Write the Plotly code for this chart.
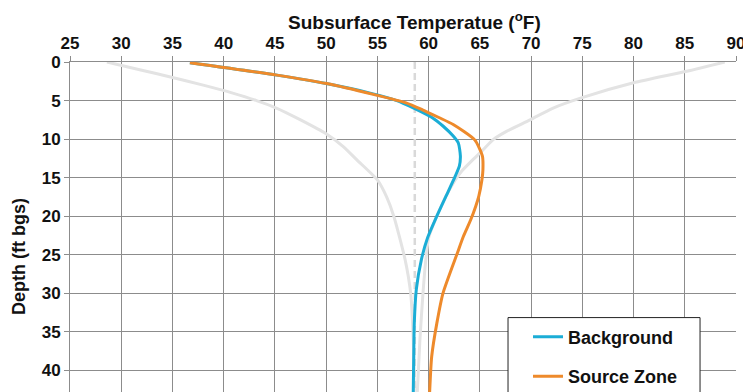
import plotly.graph_objects as go

# Background profile
bg_depth = [0.1, 1.7, 2.8, 4.0, 5.0, 5.95, 7.25, 8.3, 9.6, 10.5, 12.2, 13.5, 14.8, 17.4, 20.0, 22.8, 25.6, 29.5, 33.9, 38.0, 42.8]
bg_temp = [36.7, 45.2, 50.0, 54.2, 56.9, 58.5, 60.4, 61.4, 62.4, 62.9, 63.1, 63.0, 62.6, 61.7, 60.8, 59.9, 59.3, 58.8, 58.6, 58.55, 58.5]

# Source zone profile
sz_depth = [0.1, 1.7, 2.8, 4.2, 5.3, 6.2, 7.2, 8.1, 10.1, 12.2, 14.0, 15.3, 17.4, 18.7, 20.5, 22.6, 24.8, 30.0, 33.9, 38.2, 42.8]
sz_temp = [36.7, 45.2, 50.05, 54.6, 57.8, 59.4, 61.0, 62.4, 64.5, 65.25, 65.3, 65.2, 64.9, 64.6, 64.1, 63.4, 62.8, 61.4, 60.8, 60.3, 60.1]

# Seasonal envelope (winter / summer)
env_lo_depth = [0.0, 1.0, 2.0, 3.0, 4.0, 5.0, 6.0, 7.5, 9.3, 11.0, 12.7, 15.3, 17.5, 20.0, 25.6, 30.0, 36.0, 42.8]
env_lo_temp = [28.6, 31.8, 35.0, 38.0, 40.8, 43.2, 45.2, 47.5, 50.0, 51.7, 53.0, 55.0, 55.9, 56.6, 57.7, 58.25, 58.5, 58.6]
env_hi_depth = [0.0, 1.2, 2.7, 4.65, 6.0, 7.5, 9.0, 10.06, 11.4, 12.7, 14.2, 15.3, 17.4, 20.0, 22.8, 26.0, 30.0, 36.0, 42.8]
env_hi_temp = [88.9, 85.2, 80.0, 74.9, 72.1, 69.9, 67.6, 66.3, 65.3, 64.3, 63.2, 62.6, 61.7, 60.8, 60.0, 59.7, 59.45, 59.15, 58.9]

# Mean annual temperature
mean_temp = [58.65, 58.65]
mean_depth = [0.0, 42.8]

x_ticks = [25, 30, 35, 40, 45, 50, 55, 60, 65, 70, 75, 80, 85, 90]
y_ticks = [0, 5, 10, 15, 20, 25, 30, 35, 40]

FONT = "Arial, Liberation Sans, sans-serif"
GRAY = "#e3e3e3"
GRID = "#8c8c8c"
TXT = "#111111"

fig = go.Figure()
fig.add_trace(go.Scatter(x=env_lo_temp, y=env_lo_depth, mode="lines",
                         line=dict(color=GRAY, width=3, shape="spline", smoothing=0.6),
                         showlegend=False, hoverinfo="skip"))
fig.add_trace(go.Scatter(x=env_hi_temp, y=env_hi_depth, mode="lines",
                         line=dict(color=GRAY, width=3, shape="spline", smoothing=0.6),
                         showlegend=False, hoverinfo="skip"))
fig.add_trace(go.Scatter(x=mean_temp, y=mean_depth, mode="lines",
                         line=dict(color="#d9d9d9", width=2.5, dash="7px,4px"),
                         showlegend=False, hoverinfo="skip"))
fig.add_trace(go.Scatter(x=bg_temp, y=bg_depth, mode="lines", name="Background",
                         legendgroup="a",
                         line=dict(color="#1badd6", width=3, shape="spline", smoothing=0.6)))
fig.add_trace(go.Scatter(x=sz_temp, y=sz_depth, mode="lines", name="Source Zone",
                         legendgroup="b",
                         line=dict(color="#ee8a2b", width=3, shape="spline", smoothing=0.6)))

fig.update_layout(
    width=751, height=392,
    margin=dict(l=62, r=23, t=54, b=8, autoexpand=False),
    paper_bgcolor="white", plot_bgcolor="white",
    font=dict(family=FONT, size=17, color=TXT),
    showlegend=True,
    legend=dict(x=0.6877, y=0.2224, xanchor="left", yanchor="top",
                bgcolor="rgba(0,0,0,0)", borderwidth=0,
                font=dict(family=FONT, size=18, color=TXT, weight="bold"),
                itemwidth=30, tracegroupgap=13, traceorder="grouped"),
    xaxis=dict(side="top", range=[25, 90], tickvals=x_ticks, ticktext=[str(v) for v in x_ticks],
               showgrid=True, gridcolor=GRID, gridwidth=1,
               showline=True, linecolor=GRID, linewidth=1,
               ticks="outside", ticklen=5, tickcolor=GRID, automargin=False,
               tickfont=dict(family=FONT, size=17, weight="bold", color=TXT),
               zeroline=False),
    yaxis=dict(range=[42.8, 0], tickvals=y_ticks, ticktext=[str(v) for v in y_ticks],
               showgrid=True, gridcolor=GRID, gridwidth=1,
               showline=True, linecolor=GRID, linewidth=1,
               ticks="outside", ticklen=5, tickcolor=GRID, automargin=False,
               tickfont=dict(family=FONT, size=17, weight="bold", color=TXT),
               zeroline=False),
    shapes=[dict(type="rect", xref="paper", yref="paper",
                 x0=0.6577, x1=0.946, y0=-0.2, y1=0.2255,
                 line=dict(color="#222222", width=1), fillcolor="white", layer="above")],
    annotations=[
        dict(text="Subsurface Temperatue (<sup>o</sup>F)", xref="paper", yref="paper",
             x=0.5176, y=1.1636, xanchor="center", yanchor="top", showarrow=False,
             borderpad=0,
             font=dict(family=FONT, size=19, weight="bold", color=TXT)),
        dict(text="Depth (ft bgs)", xref="paper", yref="paper",
             x=-0.0766, y=0.412, xanchor="center", yanchor="middle",
             textangle=-90, showarrow=False,
             font=dict(family=FONT, size=18, weight="bold", color=TXT)),
    ],
)

fig.write_html("out.html")
